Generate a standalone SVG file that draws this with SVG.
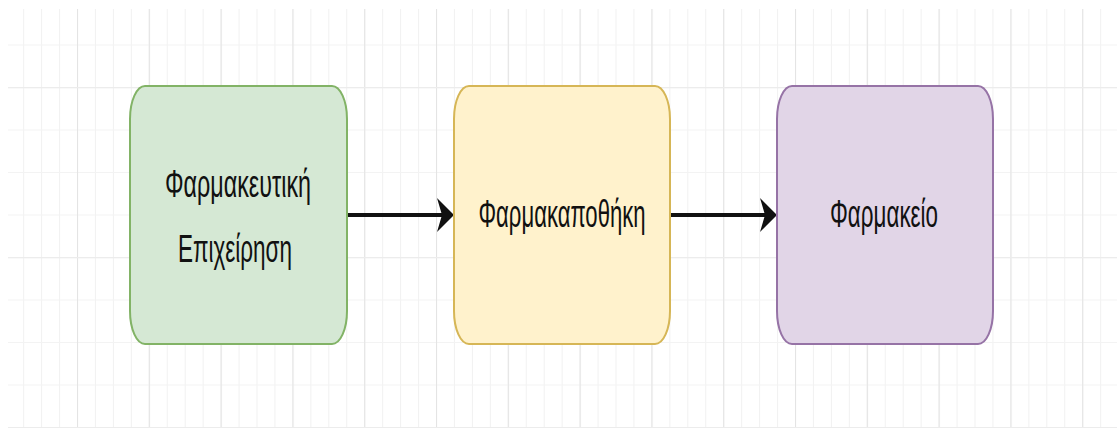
<svg xmlns="http://www.w3.org/2000/svg" width="1117" height="428" viewBox="0 0 1117 428">
  <style>
    .node rect { stroke-width: 2; }
    .lbl { font-family: "Liberation Sans", "DejaVu Sans", sans-serif; font-size: 38px; fill: #111; text-anchor: middle; }
    .edge { stroke: #111; stroke-width: 4; fill: none; }
    .head { fill: #111; }
  </style>
  <defs>
    <pattern id="minor" patternUnits="userSpaceOnUse" x="5.2" y="2" width="17.95" height="42.5">
      <rect x="0" y="0" width="1" height="42.5" fill="#f1f1f1"/>
      <rect x="0" y="-1" width="17.95" height="2" fill="#f3f3f3"/>
    </pattern>
    <pattern id="major" patternUnits="userSpaceOnUse" x="5.2" y="87" width="71.8" height="170">
      <rect x="-0.2" y="0" width="1.3" height="170" fill="#e4e4e4"/>
      <rect x="0" y="-1.2" width="71.8" height="2.5" fill="#ececec"/>
    </pattern>
  </defs>
  <rect width="1117" height="428" fill="#ffffff"/>
  <g id="grid">
    <rect x="8" y="9" width="1109" height="419" fill="url(#minor)"/>
    <rect x="8" y="9" width="1109" height="419" fill="url(#major)"/>
  </g>
  <g id="connectors">
    <line class="edge" x1="347" y1="215" x2="442" y2="215"/>
    <path class="head" d="M454,215 L437,198 L442,215 L437,232 Z"/>
    <line class="edge" x1="670" y1="215" x2="765" y2="215"/>
    <path class="head" d="M777,215 L760,198 L765,215 L760,232 Z"/>
  </g>
  <g id="node-company" class="node">
    <rect x="130" y="86" width="217" height="258" rx="15" ry="33" fill="#d5e8d4" stroke="#82b366"/>
    <text class="lbl" x="238" y="197" textLength="146" lengthAdjust="spacingAndGlyphs">Φαρμακευτική</text>
    <text class="lbl" x="235" y="262" textLength="114" lengthAdjust="spacingAndGlyphs">Επιχείρηση</text>
  </g>
  <g id="node-warehouse" class="node">
    <rect x="454" y="86" width="216" height="258" rx="15" ry="33" fill="#fff2cc" stroke="#d6b656"/>
    <text class="lbl" x="562" y="227" textLength="167" lengthAdjust="spacingAndGlyphs">Φαρμακαποθήκη</text>
  </g>
  <g id="node-pharmacy" class="node">
    <rect x="777" y="86" width="216" height="258" rx="15" ry="33" fill="#e1d5e7" stroke="#9673a6"/>
    <text class="lbl" x="884" y="227" textLength="108" lengthAdjust="spacingAndGlyphs">Φαρμακείο</text>
  </g>
</svg>
